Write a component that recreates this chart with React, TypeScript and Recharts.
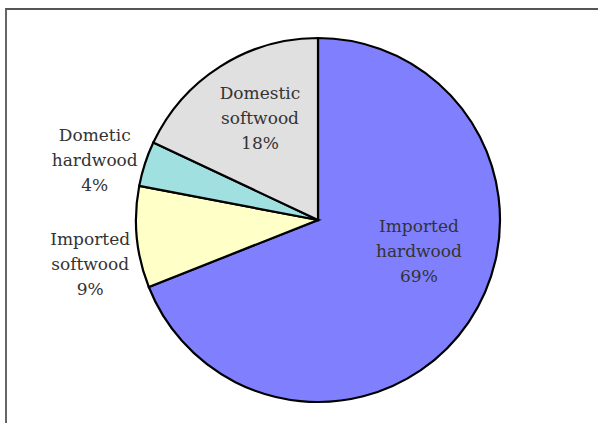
import React from "react";
import { PieChart, Pie, Cell } from "recharts";

const categories = ["Imported hardwood", "Imported softwood", "Dometic hardwood", "Domestic softwood"];
const shares = [69, 9, 4, 18];
const labelLines = [
  ["Imported", "hardwood", "69%"],
  ["Imported", "softwood", "9%"],
  ["Dometic", "hardwood", "4%"],
  ["Domestic", "softwood", "18%"],
];
const colors = ["#8080FF", "#FFFFC8", "#A0E0E0", "#E0E0E0"];

// label placement in polar terms (fraction of radius, angle in degrees, y-up)
const labelRadius = [0.58, 1.275, 1.27, 0.645];
const labelAngle = [-17, 191, 165, 119.6];

const data = categories.map((name, i) => ({ name, value: shares[i] }));

const RAD = Math.PI / 180;

const renderLabel = (props: any) => {
  const { cx, cy, outerRadius, index } = props;
  const r = outerRadius * labelRadius[index];
  const a = labelAngle[index];
  const x = cx + r * Math.cos(-a * RAD);
  const y = cy + r * Math.sin(-a * RAD);
  const lines = labelLines[index];
  const gap = 25;
  return (
    <text
      x={x}
      y={y}
      textAnchor="middle"
      fill="#333"
      fontFamily="'DejaVu Serif', serif"
      fontSize={17}
    >
      {lines.map((l, k) => (
        <tspan key={k} x={x} y={y + (k - 1) * gap} dominantBaseline="central">
          {l}
        </tspan>
      ))}
    </text>
  );
};

export default function App() {
  return (
    <div style={{ position: "absolute", left: 0, top: 0, width: 598, height: 423, background: "#fff", overflow: "hidden" }}>
      <div
        style={{
          position: "absolute",
          left: 5,
          top: 8,
          width: 700,
          height: 500,
          borderTop: "2px solid #555",
          borderLeft: "2px solid #666",
        }}
      />
      <div style={{ position: "absolute", left: 0, top: 0 }}>
        <PieChart width={598} height={423} margin={{ top: 0, right: 0, bottom: 0, left: 0 }}>
          <Pie
            data={data}
            dataKey="value"
            nameKey="name"
            cx={318}
            cy={220}
            outerRadius={182}
            startAngle={90}
            endAngle={-270}
            stroke="#000"
            strokeWidth={2.2}
            labelLine={false}
            label={renderLabel}
            isAnimationActive={false}
          >
            {data.map((d, i) => (
              <Cell key={d.name} fill={colors[i]} />
            ))}
          </Pie>
        </PieChart>
      </div>
    </div>
  );
}
